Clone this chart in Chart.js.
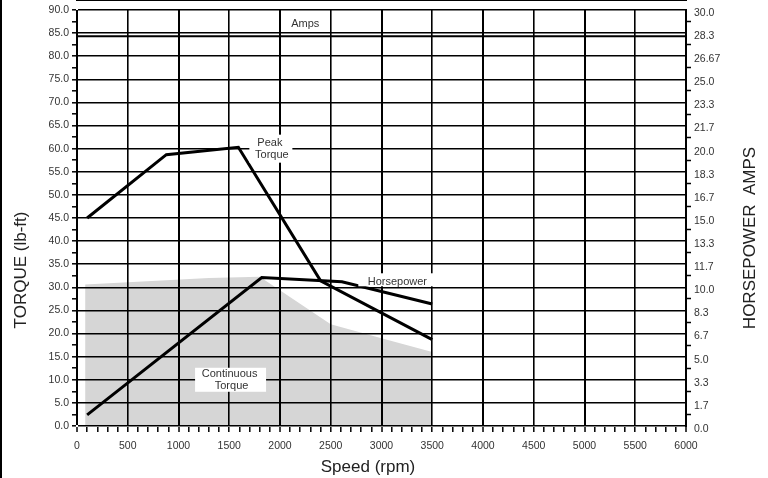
<!DOCTYPE html>
<html>
<head>
<meta charset="utf-8">
<style>
  html, body { margin: 0; padding: 0; background: #fff; }
  #wrap { width: 768px; height: 478px; position: relative; }
</style>
<script src="https://cdn.jsdelivr.net/npm/chart.js@4.4.1/dist/chart.umd.min.js"></script>
</head>
<body>
<div id="wrap"><canvas id="grafico" width="768" height="478"></canvas></div>
<script>
// valores
const peakSpeed = [100, 880, 1590, 2400, 3500];
const peakTorque = [45.0, 58.7, 60.3, 31.4, 18.7];

const hpSpeed = [100, 1820, 2610, 3500];
const hpValues = [0.8, 10.7, 10.4, 8.8];

const contSpeed = [80, 80, 1300, 1800, 2500, 3000, 3500, 3500];
const contTorque = [0, 30.6, 32.0, 32.3, 22.0, 19.0, 16.0, 0];

const ampsSpeed = [0, 6000];
const ampsValues = [28.1, 28.1];

const speedLabels = ['0', '500', '1000', '1500', '2000', '2500', '3000', '3500', '4000', '4500', '5000', '5500', '6000'];
const torqueLabels = ['0.0', '5.0', '10.0', '15.0', '20.0', '25.0', '30.0', '35.0', '40.0', '45.0',
  '50.0', '55.0', '60.0', '65.0', '70.0', '75.0', '80.0', '85.0', '90.0'];
const hpLabels = ['0.0', '1.7', '3.3', '5.0', '6.7', '8.3', '10.0', '11.7', '13.3', '15.0',
  '16.7', '18.3', '20.0', '21.7', '23.3', '25.0', '26.67', '28.3', '30.0'];

function pontos(xs, ys) {
  return xs.map((x, i) => ({ x: x, y: ys[i] }));
}

// uma marca a cada intervalo menor, rotulo so nas maiores
function marcas(max, n) {
  return (scale) => {
    const t = [];
    for (let i = 0; i <= n; i++) t.push({ value: max * i / n });
    scale.ticks = t;
  };
}

Chart.defaults.font.family = "'Liberation Sans', Arial, sans-serif";
Chart.defaults.color = '#333';

const textos = {
  id: 'textos',
  afterDraw(chart) {
    const ctx = chart.ctx;
    const x = chart.scales.x;
    const y = chart.scales.y;
    ctx.save();

    // borda esquerda da figura
    ctx.fillStyle = '#000';
    ctx.fillRect(0, 0, 2, chart.height);

    function caixa(cx, cy, w, h) {
      ctx.fillStyle = '#fff';
      ctx.fillRect(cx - w / 2, cy - h / 2, w, h);
    }
    function escreve(txt, cx, cy) {
      ctx.fillStyle = '#333';
      ctx.font = "11px 'Liberation Sans', Arial, sans-serif";
      ctx.textAlign = 'center';
      ctx.textBaseline = 'middle';
      ctx.fillText(txt, cx, cy);
    }

    let px = x.getPixelForValue(1910), py = y.getPixelForValue(60);
    caixa(px, py, 43, 28);
    escreve('Peak', px - 1, py - 6);
    escreve('Torque', px + 1, py + 6);

    px = x.getPixelForValue(3156); py = y.getPixelForValue(31.2);
    caixa(px, py - 2, 78, 13);
    escreve('Horsepower', px, py);

    px = x.getPixelForValue(1513); py = y.getPixelForValue(10);
    caixa(px, py, 71, 24);
    escreve('Continuous', px - 1, py - 6);
    escreve('Torque', px + 1, py + 6);

    px = x.getPixelForValue(2249); py = y.getPixelForValue(87);
    escreve('Amps', px, py);

    // titulos dos eixos
    ctx.fillStyle = '#222';
    ctx.font = "17px 'Liberation Sans', Arial, sans-serif";
    ctx.textAlign = 'center';
    ctx.textBaseline = 'middle';
    ctx.fillText('Speed (rpm)', 368, 467);

    ctx.translate(21, 270);
    ctx.rotate(-Math.PI / 2);
    ctx.fillText('TORQUE (lb-ft)', 0, 0);
    ctx.rotate(Math.PI / 2);
    ctx.translate(-21, -270);

    ctx.translate(750, 238);
    ctx.rotate(-Math.PI / 2);
    ctx.fillText('HORSEPOWER  AMPS', 0, 0);
    ctx.restore();
  }
};

const grafico = new Chart(document.getElementById('grafico'), {
  type: 'line',
  data: {
    datasets: [
      {
        label: 'Peak Torque',
        data: pontos(peakSpeed, peakTorque),
        yAxisID: 'y',
        borderColor: '#000',
        borderWidth: 3,
        pointRadius: 0,
        order: 1
      },
      {
        label: 'Horsepower',
        data: pontos(hpSpeed, hpValues),
        yAxisID: 'y2',
        borderColor: '#000',
        borderWidth: 3,
        pointRadius: 0,
        order: 2
      },
      {
        label: 'Amps',
        data: pontos(ampsSpeed, ampsValues),
        yAxisID: 'y2',
        borderColor: '#000',
        borderWidth: 2,
        pointRadius: 0,
        order: 3
      },
      {
        label: 'Continuous Torque',
        data: pontos(contSpeed, contTorque),
        yAxisID: 'y',
        borderWidth: 0,
        borderColor: 'rgba(0,0,0,0)',
        backgroundColor: '#d6d6d6',
        fill: 'origin',
        pointRadius: 0,
        order: 10
      }
    ]
  },
  options: {
    responsive: false,
    animation: false,
    devicePixelRatio: 1,
    layout: { padding: { top: 10, left: 0, right: 0, bottom: 0 } },
    plugins: {
      legend: { display: false },
      tooltip: { enabled: false }
    },
    scales: {
      x: {
        type: 'linear',
        min: 0,
        max: 6000,
        afterBuildTicks: marcas(6000, 60),
        afterFit: (s) => { s.height = 52; },
        border: { color: '#000', width: 2 },
        grid: {
          z: 1,
          color: (c) => (c.tick && c.tick.value % 500 === 0) ? '#000' : 'rgba(0,0,0,0)',
          lineWidth: (c) => (c.tick && c.tick.value % 1000 === 0) ? 2 : 1.6,
          tickColor: '#000',
          tickWidth: 1.5,
          tickLength: 6
        },
        ticks: {
          autoSkip: false,
          maxRotation: 0,
          padding: 8,
          font: { size: 10.5 },
          color: '#333',
          callback: (v, i) => i % 5 === 0 ? speedLabels[i / 5] : ''
        }
      },
      y: {
        position: 'left',
        min: 0,
        max: 90,
        afterBuildTicks: marcas(90, 36),
        afterFit: (s) => { s.width = 77; },
        border: { color: '#000', width: 2 },
        grid: {
          z: 1,
          color: (c) => (c.index % 2 === 0) ? '#000' : 'rgba(0,0,0,0)',
          lineWidth: 1.6,
          tickColor: '#000',
          tickWidth: 1.5,
          tickLength: 5
        },
        ticks: {
          autoSkip: false,
          padding: 3,
          font: { size: 10.5 },
          color: '#333',
          callback: (v, i) => i % 2 === 0 ? torqueLabels[i / 2] : ''
        }
      },
      y2: {
        position: 'right',
        min: 0,
        max: 30,
        afterBuildTicks: marcas(30, 36),
        afterFit: (s) => { s.width = 82; },
        border: { color: '#000', width: 2 },
        grid: {
          drawOnChartArea: false,
          tickColor: (c) => (c.index % 2 === 0) ? 'rgba(0,0,0,0)' : '#000',
          tickWidth: 1.5,
          tickLength: 5
        },
        ticks: {
          autoSkip: false,
          padding: 3,
          labelOffset: 3,
          font: { size: 10.5 },
          color: '#333',
          callback: (v, i) => i % 2 === 0 ? hpLabels[i / 2] : ''
        }
      }
    }
  },
  plugins: [textos]
});
</script>
</body>
</html>
